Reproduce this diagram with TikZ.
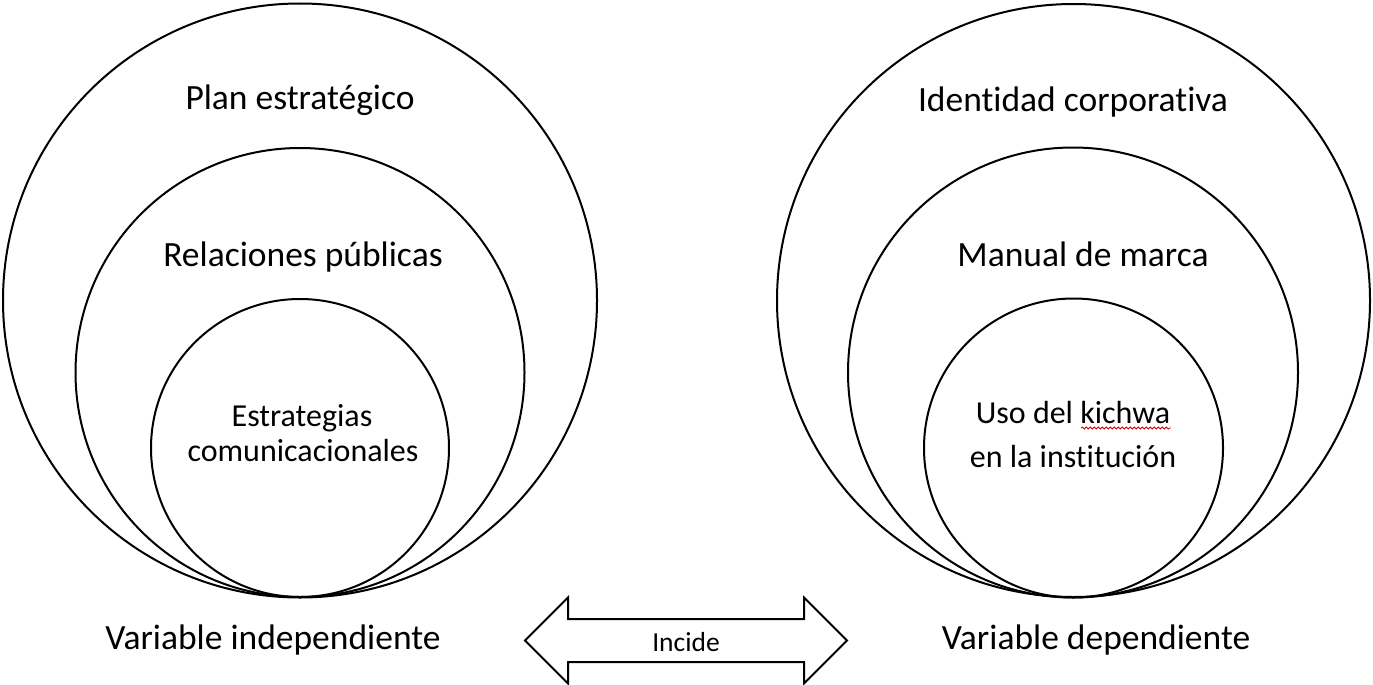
\documentclass[tikz,border=0pt]{standalone}
\usepackage{fontspec}
\setmainfont{Carlito}[Ligatures=NoCommon]
\usetikzlibrary{decorations.pathmorphing}

\tikzset{
  ring/.style={circle, draw=black, line width=2pt, inner sep=0pt, minimum size=#1},
  biglabel/.style={anchor=base, inner sep=0pt, font=\fontsize{35.5}{40}\selectfont},
  smalllabel/.style={anchor=base, inner sep=0pt, font=\fontsize{32}{36}\selectfont},
  arrowlabel/.style={anchor=base, inner sep=0pt, font=\fontsize{27.5}{32}\selectfont},
  wideshape/.style={draw=black, line width=2pt, line join=miter, fill=white},
  spellmark/.style={draw=red!80!black, line width=0.8pt,
    decorate, decoration={snake, amplitude=1pt, segment length=4pt}}
}

\begin{document}
\begin{tikzpicture}[x=1pt, y=-1pt]
  \useasboundingbox (0,0) rectangle (1373,685);

  % independent variable: three nested circles touching at the bottom
  \node[ring=594pt] (indOuter) at (300,300.5) {};
  \node[ring=449pt] (indMid)   at (300,372.5) {};
  \node[ring=298pt] (indInner) at (300,448) {};

  \node[biglabel]   (plan)  at (300,109) {Plan estratégico};
  \node[biglabel]   (rrpp)  at (303,266) {Relaciones públicas};
  \node[smalllabel] (estr1) at (302,426) {Estrategias};
  \node[smalllabel] (estr2) at (303,461) {comunicacionales};
  \node[biglabel]   (indep) at (273,649) {Variable independiente};

  % dependent variable: three nested circles touching at the bottom
  \node[ring=593pt] (depOuter) at (1073.5,300.5) {};
  \node[ring=450pt] (depMid)   at (1073,372.5) {};
  \node[ring=299pt] (depInner) at (1073.5,448) {};

  \node[biglabel]   (ident) at (1073,111) {Identidad corporativa};
  \node[biglabel]   (manual) at (1083,266) {Manual de marca};
  \node[smalllabel] (uso1)  at (1073,423) {Uso del kichwa};
  \node[smalllabel] (uso2)  at (1073,467) {en la institución};
  \node[biglabel]   (depen) at (1096,649) {Variable dependiente};

  % wavy underline below the word "kichwa"
  \coordinate (wavyA) at (1081,428);
  \coordinate (wavyB) at (1171,428);
  \draw[spellmark] (wavyA) -- (wavyB);

  % two-headed block arrow between the variables
  \coordinate (tipL) at (525,640.5);
  \coordinate (tipR) at (847,640.5);
  \draw[wideshape]
    (tipL) -- (568,597.5) -- (568,619) -- (804,619) -- (804,597.5)
    -- (tipR) -- (804,683.5) -- (804,662) -- (568,662) -- (568,683.5) -- cycle;
  \node[arrowlabel] (incide) at (686,651) {Incide};
\end{tikzpicture}
\end{document}
